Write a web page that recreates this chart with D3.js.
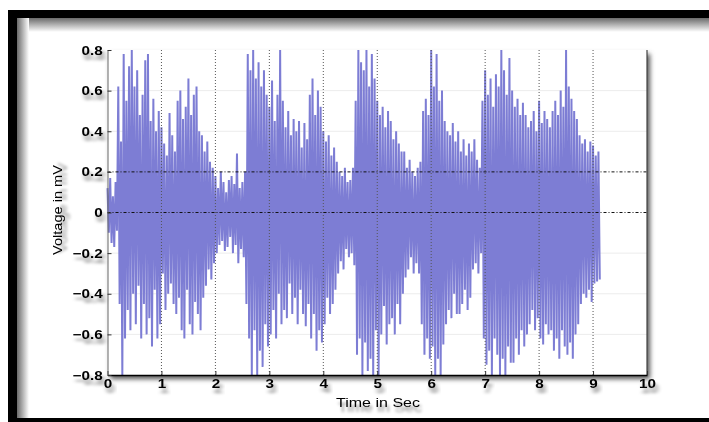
<!DOCTYPE html>
<html>
<head>
<meta charset="utf-8">
<script src="https://cdn.jsdelivr.net/npm/d3@7"></script>
<style>
  html, body { margin: 0; padding: 0; background: #fff; }
  svg { display: block; }
</style>
</head>
<body>
<svg id="chart" width="709" height="422"></svg>
<script>
// Recorded signal, sampled every 0.025 s, in mV
const sampleStep = 0.025;
const voltage = [
  0.12,-0.10,0.17,-0.15,0.08,-0.17,0.15,-0.09,0.62,-0.45,
  0.35,-0.80,0.78,-0.62,0.55,-0.48,0.72,-0.58,0.80,-0.40,
  0.62,-0.55,0.70,-0.36,0.48,-0.62,0.58,-0.45,0.75,-0.60,
  0.78,-0.52,0.45,-0.66,0.56,-0.38,0.40,-0.62,0.50,-0.55,
  0.42,-0.30,0.34,-0.48,0.28,-0.40,0.49,-0.35,0.38,-0.45,
  0.30,-0.50,0.55,-0.42,0.60,-0.58,0.46,-0.62,0.52,-0.38,
  0.66,-0.55,0.48,-0.60,0.58,-0.44,0.62,-0.50,0.40,-0.58,
  0.38,-0.42,0.30,-0.36,0.35,-0.28,0.25,-0.33,0.22,-0.25,
  0.18,-0.20,0.12,-0.16,0.20,-0.14,0.15,-0.19,0.10,-0.17,
  0.16,-0.12,0.18,-0.20,0.14,-0.16,0.29,-0.25,0.12,-0.18,
  0.15,-0.22,0.20,-0.45,0.78,-0.62,0.70,-0.80,0.80,-0.58,
  0.66,-0.80,0.74,-0.68,0.62,-0.76,0.70,-0.55,0.58,-0.66,
  0.52,-0.60,0.65,-0.48,0.45,-0.62,0.58,-0.40,0.80,-0.55,
  0.55,-0.48,0.42,-0.52,0.50,-0.35,0.38,-0.50,0.46,-0.42,
  0.40,-0.55,0.45,-0.38,0.32,-0.50,0.44,-0.56,0.36,-0.45,
  0.58,-0.62,0.66,-0.50,0.48,-0.68,0.60,-0.58,0.52,-0.64,
  0.40,-0.55,0.35,-0.42,0.38,-0.50,0.28,-0.45,0.32,-0.38,
  0.25,-0.30,0.20,-0.24,0.18,-0.28,0.22,-0.18,0.15,-0.22,
  0.16,-0.20,0.22,-0.26,0.55,-0.70,0.80,-0.62,0.74,-0.80,
  0.70,-0.64,0.80,-0.78,0.62,-0.72,0.78,-0.80,0.66,-0.58,
  0.55,-0.80,0.48,-0.60,0.52,-0.46,0.42,-0.65,0.50,-0.55,
  0.45,-0.52,0.36,-0.60,0.40,-0.45,0.34,-0.55,0.30,-0.40,
  0.30,-0.32,0.22,-0.28,0.26,-0.22,0.20,-0.30,0.18,-0.25,
  0.22,-0.30,0.25,-0.55,0.50,-0.70,0.56,-0.62,0.48,-0.72,
  0.80,-0.66,0.62,-0.80,0.78,-0.72,0.55,-0.80,0.60,-0.65,
  0.45,-0.55,0.40,-0.48,0.38,-0.52,0.44,-0.40,0.35,-0.50,
  0.40,-0.50,0.30,-0.45,0.36,-0.38,0.28,-0.48,0.34,-0.42,
  0.30,-0.28,0.36,-0.25,0.26,-0.30,0.22,-0.20,0.55,-0.62,
  0.70,-0.75,0.58,-0.68,0.66,-0.80,0.52,-0.62,0.68,-0.70,
  0.62,-0.80,0.80,-0.72,0.70,-0.80,0.58,-0.66,0.76,-0.74,
  0.60,-0.74,0.52,-0.62,0.56,-0.70,0.48,-0.58,0.54,-0.66,
  0.48,-0.60,0.42,-0.55,0.45,-0.48,0.50,-0.58,0.40,-0.52,
  0.55,-0.62,0.44,-0.65,0.50,-0.55,0.46,-0.60,0.42,-0.58,
  0.50,-0.68,0.55,-0.62,0.48,-0.72,0.60,-0.58,0.52,-0.66,
  0.80,-0.70,0.62,-0.64,0.56,-0.72,0.50,-0.60,0.46,-0.55,
  0.38,-0.45,0.34,-0.40,0.36,-0.42,0.30,-0.38,0.35,-0.44,
  0.33,-0.35,0.28,-0.34,0.30,-0.33
];
const xTicks = [0, 1, 2, 3, 4, 5, 6, 7, 8, 9, 10];
const yTicks = [-0.8, -0.6, -0.4, -0.2, 0, 0.2, 0.4, 0.6, 0.8];
const markedLevels = [0, 0.2];
const xLabel = "Time in Sec";
const yLabel = "Voltage in mV";

const svg = d3.select("#chart");
const W = 709, H = 422;
const plot = { left: 107.5, right: 647, top: 50, bottom: 375 };
const FONT = "'Liberation Sans', Arial, sans-serif";

const x = d3.scaleLinear().domain([0, 10]).range([plot.left, plot.right]);
const y = d3.scaleLinear().domain([-0.8, 0.8]).range([plot.bottom, plot.top]);

const defs = svg.append("defs");
const txtShadow = defs.append("filter").attr("id", "txtShadow")
  .attr("x", "-30%").attr("y", "-40%").attr("width", "180%").attr("height", "220%");
txtShadow.append("feDropShadow").attr("dx", 2).attr("dy", 5)
  .attr("stdDeviation", 1.8).attr("flood-color", "#000").attr("flood-opacity", 0.45);
const boxBlur = defs.append("filter").attr("id", "boxBlur")
  .attr("x", "-5%").attr("y", "-5%").attr("width", "110%").attr("height", "110%");
boxBlur.append("feGaussianBlur").attr("stdDeviation", 2.5);

const gTop = defs.append("linearGradient").attr("id", "gTop")
  .attr("x1", 0).attr("y1", 0).attr("x2", 0).attr("y2", 1);
gTop.append("stop").attr("offset", 0).attr("stop-color", "#6a6a6a");
gTop.append("stop").attr("offset", 1).attr("stop-color", "#fff");
const gLeft = defs.append("linearGradient").attr("id", "gLeft")
  .attr("x1", 0).attr("y1", 0).attr("x2", 1).attr("y2", 0);
gLeft.append("stop").attr("offset", 0).attr("stop-color", "#6a6a6a");
gLeft.append("stop").attr("offset", 1).attr("stop-color", "#fff");

// page and frame
svg.append("rect").attr("width", W).attr("height", H).attr("fill", "#fff");
svg.append("rect").attr("x", 17).attr("y", 18).attr("width", W - 17).attr("height", 14).attr("fill", "url(#gTop)");
svg.append("rect").attr("x", 17).attr("y", 18).attr("width", 12).attr("height", 400).attr("fill", "url(#gLeft)");

// axes box shadow
svg.append("rect")
  .attr("x", plot.left + 3).attr("y", plot.top + 4)
  .attr("width", plot.right - plot.left).attr("height", plot.bottom - plot.top)
  .attr("fill", "#555").attr("filter", "url(#boxBlur)");
svg.append("rect")
  .attr("x", plot.left).attr("y", plot.top)
  .attr("width", plot.right - plot.left).attr("height", plot.bottom - plot.top)
  .attr("fill", "#fff");

// faint horizontal grid
svg.append("g").selectAll("line")
  .data(yTicks.filter(v => !markedLevels.includes(v) && Math.abs(v) < 0.8))
  .join("line")
  .attr("x1", plot.left).attr("x2", plot.right)
  .attr("y1", d => y(d)).attr("y2", d => y(d))
  .attr("stroke", "#ececec").attr("stroke-width", 1);

// signal trace
const line = d3.line()
  .x((d, i) => x(i * sampleStep))
  .y(d => y(d));
svg.append("path")
  .datum(voltage)
  .attr("d", line)
  .attr("fill", "none")
  .attr("stroke", "#7d7dd4")
  .attr("stroke-width", 2)
  .attr("stroke-linejoin", "bevel");

// vertical dotted grid
svg.append("g").selectAll("line")
  .data(xTicks.filter(t => t > 0 && t < 10))
  .join("line")
  .attr("x1", d => x(d)).attr("x2", d => x(d))
  .attr("y1", plot.top).attr("y2", plot.bottom)
  .attr("stroke", "#555").attr("stroke-width", 1)
  .attr("stroke-dasharray", "1,2");

// marked horizontal levels
svg.append("g").selectAll("line")
  .data(markedLevels)
  .join("line")
  .attr("x1", plot.left).attr("x2", plot.right)
  .attr("y1", d => y(d)).attr("y2", d => y(d))
  .attr("stroke", "#111").attr("stroke-width", 1)
  .attr("stroke-dasharray", "3,2,1,2");

// right edge of the box
svg.append("line").attr("x1", plot.right).attr("x2", plot.right)
  .attr("y1", plot.top).attr("y2", plot.bottom).attr("stroke", "#444").attr("stroke-width", 1.2);

// axes
const xAxis = svg.append("g")
  .attr("transform", `translate(0,${plot.bottom})`)
  .call(d3.axisBottom(x).tickValues(xTicks).tickFormat(d3.format("d"))
    .tickSizeInner(-4).tickSizeOuter(0).tickPadding(4));
const yAxis = svg.append("g")
  .attr("transform", `translate(${plot.left},0)`)
  .call(d3.axisLeft(y).tickValues(yTicks).tickFormat(d => d === 0 ? "0" : d3.format(".1f")(d))
    .tickSizeInner(-4).tickSizeOuter(0).tickPadding(4));

xAxis.select(".domain").attr("stroke", "#000").attr("stroke-width", 1.6);
yAxis.select(".domain").attr("stroke", "#666").attr("stroke-width", 1);
[xAxis, yAxis].forEach(g => {
  g.selectAll(".tick line").attr("stroke", "#333");
  g.selectAll(".tick text")
    .attr("fill", "#000")
    .attr("font-family", FONT)
    .attr("font-size", 12.5)
    .attr("font-weight", "bold")
    .attr("transform", "scale(1.22,1)")
    .attr("filter", "url(#txtShadow)");
});

// axis titles
svg.append("text")
  .attr("x", 378).attr("y", 407)
  .attr("text-anchor", "middle")
  .attr("font-family", FONT)
  .attr("font-size", 13.5)
  .attr("textLength", 84).attr("lengthAdjust", "spacingAndGlyphs")
  .attr("filter", "url(#txtShadow)")
  .text(xLabel);
svg.append("text")
  .attr("transform", `translate(62,210) rotate(-90)`)
  .attr("text-anchor", "middle")
  .attr("font-family", FONT)
  .attr("font-size", 13.5)
  .attr("textLength", 90).attr("lengthAdjust", "spacingAndGlyphs")
  .attr("filter", "url(#txtShadow)")
  .text(yLabel);

// black frame bars
svg.append("rect").attr("x", 8).attr("y", 10).attr("width", W - 8).attr("height", 8).attr("fill", "#000");
svg.append("rect").attr("x", 8).attr("y", 10).attr("width", 9).attr("height", H - 10).attr("fill", "#000");
svg.append("rect").attr("x", 8).attr("y", 418).attr("width", W - 8).attr("height", 4).attr("fill", "#000");
</script>
</body>
</html>
